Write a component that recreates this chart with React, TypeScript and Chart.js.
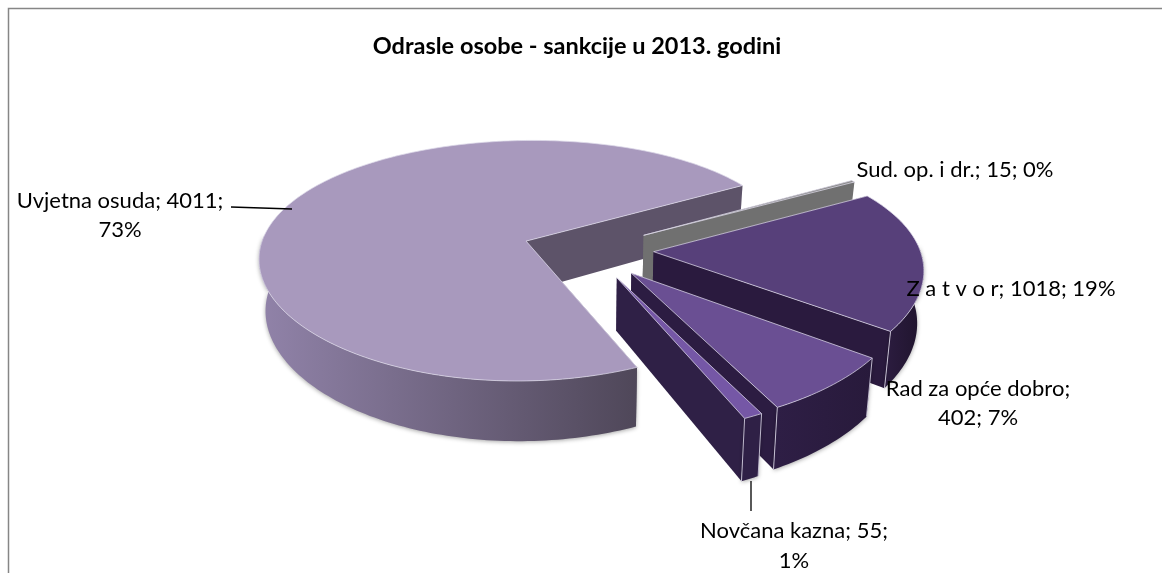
import React, { useEffect, useRef } from "react";
import { Chart, PieController, ArcElement } from "chart.js/auto";

const TITLE = "Odrasle osobe - sankcije u 2013. godini";
const categories = ["Uvjetna osuda", "Sud. op. i dr.", "Z a t v o r", "Rad za opće dobro", "Novčana kazna"];
const values = [4011, 15, 1018, 402, 55];

const faceColors = ["#A899BD", "#8A8A8A", "#57407A", "#6A4F93", "#7557A6"];
const wallColors = ["#5D5369", "#707070", "#2A1A3E", "#2C1C42", "#2F2046"];
const rimColors: [string, string][] = [
  ["#9082A8", "#4F4759"],
  ["#707070", "#707070"],
  ["#2A1B3D", "#21152F"],
  ["#2E1E45", "#281A3B"],
  ["#2F2046", "#2F2046"],
];
const cornerLines = [false, false, true, true, true];

const P = { ox: 588, oy: 250, rx: 266.5, ry: 120, p: 0.165, px: 0.125, depth: 51, shrink: 0.98 };

function project(u: number, v: number, low: boolean): [number, number] {
  const w = 1 - P.p * v;
  let X = P.ox + (P.rx * u) / (1 - P.px * v);
  let Y = P.oy + (P.ry * v) / w;
  if (low) {
    X = P.ox + (X - P.ox) * P.shrink;
    Y += P.depth / w;
  }
  return [X, Y];
}

class Arc3D extends ArcElement {
  static id = "arc3d";
  draw(ctx: CanvasRenderingContext2D) {
    const el: any = this;
    const { startAngle, endAngle, outerRadius } = el.getProps(["startAngle", "endAngle", "outerRadius"]);
    const i: number = el.$context.dataIndex;
    const e = el.options.offset / outerRadius;
    const mid = (startAngle + endAngle) / 2;
    const cu = e * Math.cos(mid);
    const cv = e * Math.sin(mid);
    const steps = Math.max(4, Math.ceil((endAngle - startAngle) / 0.02));
    const rimAngles: number[] = [];
    for (let k = 0; k <= steps; k++) rimAngles.push(startAngle + ((endAngle - startAngle) * k) / steps);
    const pt = (a: number, low: boolean) => project(cu + Math.cos(a), cv + Math.sin(a), low);
    const apexT = project(cu, cv, false);
    const apexB = project(cu, cv, true);

    ctx.save();
    // radial walls
    for (const a of [startAngle, endAngle]) {
      const t = pt(a, false);
      const b = pt(a, true);
      ctx.beginPath();
      ctx.moveTo(apexT[0], apexT[1]);
      ctx.lineTo(t[0], t[1]);
      ctx.lineTo(b[0], b[1]);
      ctx.lineTo(apexB[0], apexB[1]);
      ctx.closePath();
      ctx.fillStyle = wallColors[i];
      ctx.fill();
    }
    // rim wall, only the part that faces the viewer
    const vis = rimAngles.filter((a) => Math.sin(a) > -0.06);
    if (vis.length > 1) {
      const a0 = pt(vis[vis.length - 1], false);
      const a1 = pt(vis[0], false);
      const g = ctx.createLinearGradient(Math.min(a0[0], a1[0]), 0, Math.max(a0[0], a1[0]), 0);
      g.addColorStop(0, rimColors[i][0]);
      g.addColorStop(1, rimColors[i][1]);
      ctx.beginPath();
      vis.forEach((a, k) => {
        const q = pt(a, false);
        if (k === 0) ctx.moveTo(q[0], q[1]);
        else ctx.lineTo(q[0], q[1]);
      });
      [...vis].reverse().forEach((a) => {
        const q = pt(a, true);
        ctx.lineTo(q[0], q[1]);
      });
      ctx.closePath();
      ctx.fillStyle = g;
      ctx.shadowColor = "rgba(0,0,0,0.35)";
      ctx.shadowBlur = 4;
      ctx.shadowOffsetY = 1;
      ctx.fill();
      ctx.shadowColor = "transparent";
      ctx.shadowBlur = 0;
      ctx.shadowOffsetY = 0;
    }
    if (cornerLines[i]) {
      const t = pt(startAngle, false);
      const b = pt(startAngle, true);
      const t2 = pt(endAngle, false);
      const b2 = pt(endAngle, true);
      ctx.strokeStyle = "rgba(215,210,228,0.85)";
      ctx.lineWidth = 1;
      ctx.beginPath();
      if (i === 2) {
        ctx.moveTo(t2[0], t2[1]);
        ctx.lineTo(b2[0], b2[1]);
      } else {
        ctx.moveTo(t2[0], t2[1]);
        ctx.lineTo(b2[0], b2[1]);
        ctx.moveTo(t[0], t[1]);
        ctx.lineTo(b[0], b[1]);
      }
      ctx.stroke();
    }
    // top face
    ctx.beginPath();
    ctx.moveTo(apexT[0], apexT[1]);
    rimAngles.forEach((a) => {
      const q = pt(a, false);
      ctx.lineTo(q[0], q[1]);
    });
    ctx.closePath();
    ctx.fillStyle = el.options.backgroundColor;
    ctx.fill();
    ctx.strokeStyle = "rgba(220,216,232,0.75)";
    ctx.lineWidth = 1;
    ctx.stroke();
    ctx.restore();
  }
}

class Pie3D extends PieController {
  static id = "pie3d";
  static defaults = { dataElementType: "arc3d" };
}

Chart.register(Arc3D as any, Pie3D as any);

const FONT = "Lato, Carlito, sans-serif";
const LABEL_SIZE = 22;

const total = values.reduce((a, b) => a + b, 0);
const pct = (i: number) => Math.round((values[i] / total) * 100) + "%";

const labelLines: [string[], number, number[]][] = [
  [[`${categories[0]}; ${values[0]};`, pct(0)], 120, [201, 230]],
  [[`${categories[1]}; ${values[1]}; ${pct(1)}`], 955, [170]],
  [[`${categories[2]}; ${values[2]}; ${pct(2)}`], 1011, [289]],
  [[`${categories[3]};`, `${values[3]}; ${pct(3)}`], 978, [389, 418]],
  [[`${categories[4]}; ${values[4]};`, pct(4)], 794, [531, 561]],
];

const framePlugin = {
  id: "frame",
  beforeDraw(chart: any) {
    const c = chart.ctx;
    c.save();
    c.strokeStyle = "#868686";
    c.lineWidth = 1.5;
    c.beginPath();
    c.moveTo(8.5, 573);
    c.lineTo(8.5, 8.5);
    c.lineTo(1162, 8.5);
    c.stroke();
    c.restore();
  },
};

const labelPlugin = {
  id: "sliceLabels",
  afterDraw(chart: any) {
    const c = chart.ctx;
    c.save();
    c.strokeStyle = "#000";
    c.lineWidth = 1.3;
    c.beginPath();
    c.moveTo(231, 207);
    c.lineTo(292, 209);
    c.moveTo(751, 481);
    c.lineTo(751, 511);
    c.stroke();
    c.fillStyle = "#000";
    c.font = `${LABEL_SIZE}px ${FONT}`;
    c.textAlign = "center";
    c.textBaseline = "middle";
    labelLines.forEach(([lines, x, ys]) => {
      lines.forEach((s, k) => c.fillText(s, x, ys[k]));
    });
    c.restore();
  },
};

export default function App() {
  const ref = useRef<HTMLCanvasElement>(null);
  useEffect(() => {
    const chart = new Chart(ref.current!, {
      type: "pie3d" as any,
      data: {
        labels: categories,
        datasets: [{ data: values, backgroundColor: faceColors, borderWidth: 0, offset: 55 } as any],
      },
      options: {
        responsive: false,
        animation: false,
        events: [],
        rotation: 156.5,
        layout: { padding: { right: 8 } },
        plugins: {
          legend: { display: false },
          tooltip: { enabled: false },
          title: {
            display: true,
            fullSize: false,
            text: TITLE,
            color: "#000",
            font: { family: FONT, size: 23.5, weight: "bold" },
            padding: { top: 32, bottom: 11 },
          },
        },
      } as any,
      plugins: [framePlugin, labelPlugin],
    });
    return () => chart.destroy();
  }, []);
  return (
    <div style={{ position: "fixed", left: 0, top: 0, width: 1162, height: 573, background: "#fff" }}>
      <canvas ref={ref} width={1162} height={573} style={{ display: "block" }} />
    </div>
  );
}
